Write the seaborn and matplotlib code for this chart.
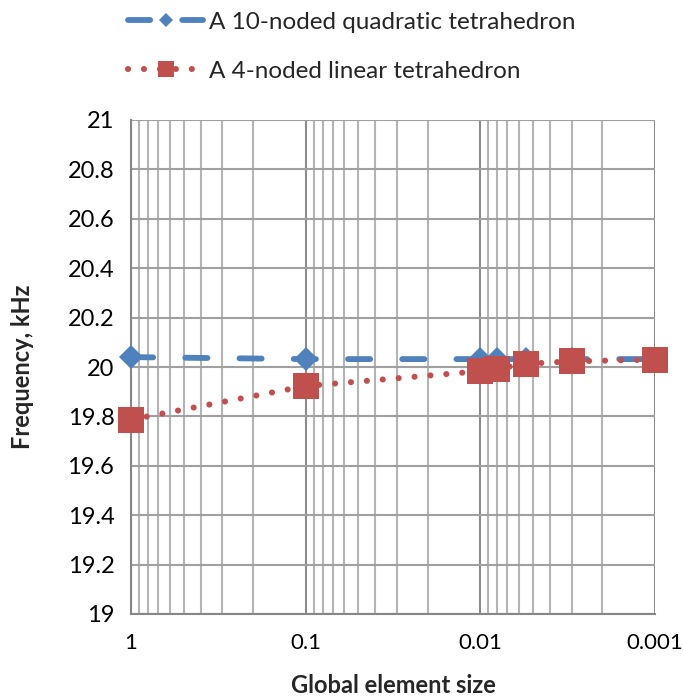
import matplotlib
matplotlib.use("Agg")
import matplotlib.pyplot as plt
import matplotlib.ticker as mticker
import seaborn as sns
import numpy as np

sizes_quad = [1, 0.1, 0.01, 0.008, 0.0055, 0.003, 0.001]
freq_quad = [20.040, 20.032, 20.032, 20.032, 20.032, 20.032, 20.032]
sizes_lin = [1, 0.1, 0.01, 0.008, 0.0055, 0.003, 0.001]
freq_lin = [19.787, 19.923, 19.983, 19.993, 20.013, 20.023, 20.030]
label_quad = "A 10-noded quadratic tetrahedron"
label_lin = "A 4-noded linear tetrahedron"
x_ticks = [1, 0.1, 0.01, 0.001]
x_ticklabels = ["1", "0.1", "0.01", "0.001"]
y_ticks = [19, 19.2, 19.4, 19.6, 19.8, 20, 20.2, 20.4, 20.6, 20.8, 21]
y_ticklabels = ["19", "19.2", "19.4", "19.6", "19.8", "20", "20.2", "20.4", "20.6", "20.8", "21"]

sns.set_style("white")
plt.rcParams["font.family"] = ["Lato", "DejaVu Sans"]

fig = plt.figure(figsize=(6.83, 6.99), dpi=100)
ax = fig.add_axes([131/683, 1-614/699, (655-131)/683, (614-120)/699])
ax.set_xscale("log")

blue = "#4F81BD"
red = "#C0504D"

sns.lineplot(x=sizes_quad, y=freq_quad, ax=ax, color=blue, marker="D",
             markersize=12, markeredgewidth=0, linewidth=4.2,
             linestyle=(0, (3.8, 5.5)), dash_capstyle="round",
             label=label_quad, sort=False, zorder=3, clip_on=False)
sns.lineplot(x=sizes_lin, y=freq_lin, ax=ax, color=red, marker="s",
             markersize=19, markeredgewidth=0, linewidth=4.4,
             linestyle=(0, (0.01, 2.6)), dash_capstyle="round",
             label=label_lin, sort=False, zorder=4, clip_on=False)

ax.set_xlim(1, 0.001)
ax.set_ylim(19, 21)
ax.set_xticks(x_ticks)
ax.set_xticklabels(x_ticklabels)
ax.xaxis.set_minor_locator(mticker.LogLocator(base=10, subs=np.arange(2, 10)))
ax.xaxis.set_minor_formatter(mticker.NullFormatter())
ax.set_yticks(y_ticks)
ax.set_yticklabels(y_ticklabels)

ax.grid(True, which="major", axis="x", color="#8c8c8c", linewidth=1.5)
ax.grid(True, which="minor", axis="x", color="#b4b4b4", linewidth=1.5)
ax.grid(True, which="major", axis="y", color="#a0a0a0", linewidth=1.5)
ax.set_axisbelow(True)

for s in ["top", "right"]:
    ax.spines[s].set_visible(False)
for s in ["left", "bottom"]:
    ax.spines[s].set_color("#868686")
    ax.spines[s].set_linewidth(1.5)

ax.tick_params(axis="both", which="major", direction="out", length=6, width=1.5,
               color="#868686", labelsize=17, labelcolor="black", pad=6)
ax.tick_params(axis="x", which="minor", length=0)
ax.tick_params(axis="x", which="major", pad=8, labelsize=16)

ax.set_xlabel("Global element size", fontsize=17, fontweight="bold", labelpad=15)
ax.set_ylabel("Frequency, kHz", fontsize=17, fontweight="bold", labelpad=24)

ax.get_legend().remove()
h, l = ax.get_legend_handles_labels()
fig.legend(h, l, loc="upper left", bbox_to_anchor=(106/683, 1+10/699),
           frameon=False, fontsize=17.5, handlelength=3.1, labelspacing=1.15,
           handletextpad=0.25, markerscale=0.6)

fig.savefig("out.png", dpi=100)
